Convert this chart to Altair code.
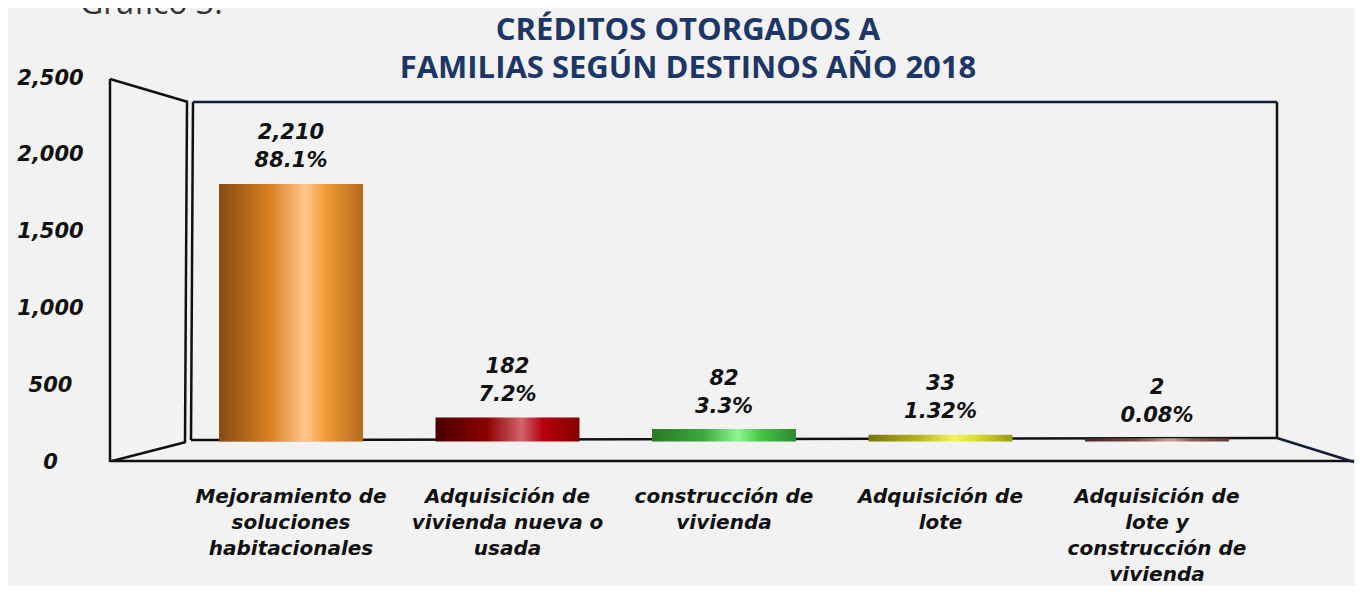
import altair as alt
import pandas as pd

# ---------------- data ----------------
categories = [
    "Mejoramiento de|soluciones|habitacionales",
    "Adquisición de|vivienda nueva o|usada",
    "construcción de|vivienda",
    "Adquisición de|lote",
    "Adquisición de|lote y|construcción de|vivienda",
]
creditos = [2210, 182, 82, 33, 2]
porcentajes = ["88.1%", "7.2%", "3.3%", "1.32%", "0.08%"]
y_ticks = [0, 500, 1000, 1500, 2000, 2500]
title_lines = ["CRÉDITOS OTORGADOS A", "FAMILIAS SEGÚN DESTINOS AÑO 2018"]
caption = "Gráfico 3."

# gradient stops per bar (left dark -> highlight -> right)
bar_gradients = [
    ["#8a4c14", "#d9801f", "#ffc68c", "#f19a36", "#b86a1c"],
    ["#4a0000", "#8c0000", "#d2646c", "#b5000e", "#860000"],
    ["#2a7a2a", "#3aa83a", "#8ef58e", "#48c848", "#2c8c2c"],
    ["#76760e", "#b8b81c", "#f4f45c", "#dcdc2c", "#9c9c16"],
    ["#472828", "#784848", "#caa2a2", "#8a5858", "#663838"],
]

df = pd.DataFrame({
    "cat": categories,
    "value": creditos,
    "pct": porcentajes,
})
df["label"] = [f"{v:,}\n{p}" for v, p in zip(creditos, porcentajes)]

FONT_LBL = "DejaVu Sans"
FONT_TTL = "Open Sans"

x_enc = alt.X(
    "cat:N",
    sort=categories,
    scale=alt.Scale(range=[72.75, 1155.25], paddingInner=0.349, paddingOuter=0.1745),
    axis=alt.Axis(
        title=None, labelExpr="split(datum.label, '|')", labelAngle=0,
        domain=False, ticks=False, grid=False, labelPadding=24,
        labelFont=FONT_LBL, labelFontSize=20, labelFontStyle="italic",
        labelFontWeight="bold", labelColor="#111111", labelLineHeight=26,
        labelBaseline="top", labelLimit=0, labelOverlap=False,
    ),
)
y_bar = alt.Y("value:Q", scale=alt.Scale(domain=[0, 2500], range=[362, 74]), axis=None)

base = alt.Chart(df)

bar_layers = []
for cat, stops in zip(categories, bar_gradients):
    grad = alt.Gradient(
        gradient="linear",
        stops=[alt.GradientStop(offset=o, color=c)
               for o, c in zip([0.0, 0.35, 0.6, 0.75, 1.0], stops)],
        x1=0, x2=1, y1=0, y2=0,
    )
    bar_layers.append(
        base.transform_filter(alt.datum.cat == cat)
        .mark_bar(fill=grad, stroke=grad, strokeWidth=3)
        .encode(x=x_enc, y=y_bar)
    )

value_text = base.mark_text(
    align="center", baseline="bottom", dy=-42, lineBreak="\n", lineHeight=28,
    font=FONT_LBL, fontSize=21, fontStyle="italic", fontWeight="bold", color="#111111",
).encode(x=x_enc, y=y_bar, text="label:N")

axis_layer = alt.Chart(pd.DataFrame({"tick": y_ticks})).mark_point(opacity=0).encode(
    y=alt.Y(
        "tick:Q",
        scale=alt.Scale(domain=[0, 2500]),
        axis=alt.Axis(
            values=y_ticks, format=",.0f", title=None, orient="left", domain=False,
            ticks=False, tickSize=0, grid=False, labelPadding=60,
            labelAlign="center", labelBaseline="middle", labelFlush=False,
            labelFont=FONT_LBL, labelFontSize=21, labelFontStyle="italic",
            labelFontWeight="bold", labelColor="#111111",
        ),
    )
)

dummy = alt.Chart(pd.DataFrame({"k": [0]}))


def seg(x1, y1, x2, y2, color="#111111", w=2.5):
    return dummy.mark_rule(color=color, strokeWidth=w).encode(
        x=alt.value(x1), y=alt.value(y1), x2=alt.value(x2), y2=alt.value(y2)
    )


frame = [
    seg(0, 1, 0, 384),            # outer left edge of side wall
    seg(0, 1, 78, 24),            # side wall top
    seg(2, 383, 76, 364),         # side wall bottom
    seg(77, 24, 75, 364),         # side wall inner edge
    seg(83, 24, 81, 362),         # back wall left edge
    seg(83, 24, 1167, 24, color="#141c3a"),  # back wall top
    seg(1167, 24, 1167, 360),     # back wall right
    seg(81, 362, 1167, 360),      # back wall bottom
    seg(0, 383, 1244, 383),       # floor front
    seg(1167, 360, 1244, 384, color="#141c3a"),  # right slant
]

title = dummy.mark_text(
    text=title_lines, align="center", baseline="middle", lineHeight=38,
    font=FONT_TTL, fontSize=31, fontWeight="bold", color="#1c3767",
).encode(x=alt.value(578), y=alt.value(-47))

cap = dummy.mark_text(
    text=caption, align="left", baseline="alphabetic",
    font=FONT_TTL, fontSize=32, color="#333333",
).encode(x=alt.value(-30), y=alt.value(-64))

chart = alt.layer(
    *frame, *bar_layers, value_text, axis_layer, title, cap
).resolve_scale(y="independent").properties(
    width=1245, height=384,
    padding={"left": 102, "top": 70, "right": 0, "bottom": 124},
    autosize=alt.AutoSizeParams(type="none"),
    background="#f2f2f2",
).configure_view(stroke=None)

chart.save("out.html", embed_options={"renderer": "svg", "actions": False})
